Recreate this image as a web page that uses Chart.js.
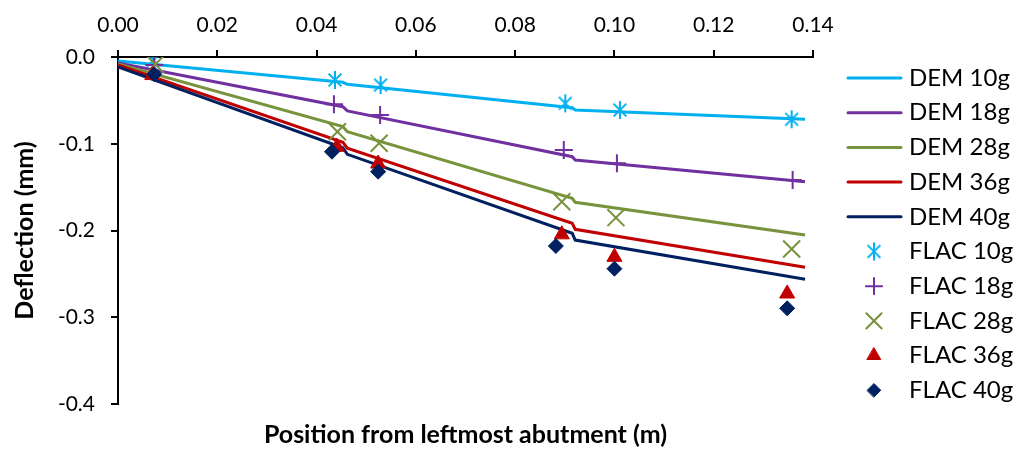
<!DOCTYPE html>
<html>
<head>
<meta charset="utf-8">
<script src="https://cdn.jsdelivr.net/npm/chart.js@4.4.1/dist/chart.umd.min.js"></script>
<style>
  html, body { margin: 0; padding: 0; background: #fff; }
  #wrap { width: 1017px; height: 453px; }
</style>
</head>
<body>
<div id="wrap"><canvas id="deflectionChart" width="1017" height="453"></canvas></div>
<script>
var loadCases = ["10g", "18g", "28g", "36g", "40g"];
var caseColors = ["#00b0f0", "#7030a0", "#77933c", "#c00000", "#002060"];

var xTicks = [0, 0.02, 0.04, 0.06, 0.08, 0.10, 0.12, 0.14];
var yTicks = [0, -0.1, -0.2, -0.3, -0.4];

// DEM deflection profile, sampled along the deck (m)
var demX = [0, 0.0453, 0.0462, 0.0915, 0.0921, 0.1384];
var dem10 = [-0.0046, -0.0292, -0.0315, -0.0584, -0.0611, -0.0718];
var dem18 = [-0.0069, -0.0573, -0.0622, -0.1149, -0.1187, -0.1437];
var dem28 = [-0.0081, -0.0803, -0.0861, -0.1629, -0.1675, -0.2052];
var dem36 = [-0.0092, -0.0983, -0.1052, -0.1917, -0.1986, -0.2424];
var dem40 = [-0.0115, -0.1046, -0.1122, -0.2032, -0.2110, -0.2563];

// FLAC results at the gauge positions
var flac10X = [0.0071, 0.0437, 0.0529, 0.0901, 0.1011, 0.1357];
var flac10Y = [-0.0040, -0.0265, -0.0323, -0.0534, -0.0611, -0.0718];
var flac18X = [0.0073, 0.0435, 0.0528, 0.0898, 0.1005, 0.1359];
var flac18Y = [-0.0092, -0.0545, -0.0669, -0.1072, -0.1225, -0.1418];
var flac28X = [0.0075, 0.0442, 0.0526, 0.0894, 0.1003, 0.1357];
var flac28Y = [-0.0085, -0.0861, -0.0995, -0.1668, -0.1852, -0.2213];
var flac36X = [0.0069, 0.0441, 0.0524, 0.0894, 0.1000, 0.1348];
var flac36Y = [-0.0210, -0.1037, -0.1230, -0.2046, -0.2305, -0.2728];
var flac40X = [0.0073, 0.0431, 0.0524, 0.0882, 0.1000, 0.1348];
var flac40Y = [-0.0199, -0.1092, -0.1322, -0.2179, -0.2440, -0.2897];

function asterisk(color) {
  var c = document.createElement("canvas");
  c.width = 20;
  c.height = 20;
  var g = c.getContext("2d");
  g.strokeStyle = color;
  g.lineWidth = 2;
  g.beginPath();
  g.moveTo(10, 1); g.lineTo(10, 19);
  g.moveTo(3.6, 3.6); g.lineTo(16.4, 16.4);
  g.moveTo(16.4, 3.6); g.lineTo(3.6, 16.4);
  g.stroke();
  return c;
}

var markerStyles = [
  { style: asterisk(caseColors[0]), radius: 9, border: 0 },
  { style: "cross", radius: 9, border: 2 },
  { style: "crossRot", radius: 12, border: 2 },
  { style: "triangle", radius: 8.7, border: 1 },
  { style: "rectRot", radius: 7.5, border: 1 }
];

function zip(xs, ys) {
  return xs.map(function (x, k) { return { x: x, y: ys[k] }; });
}

function demDataset(i, values) {
  return {
    type: "line",
    label: "DEM " + loadCases[i],
    data: zip(demX, values),
    borderColor: caseColors[i],
    backgroundColor: caseColors[i],
    borderWidth: 3,
    pointRadius: 0,
    tension: 0,
    order: 20 - i
  };
}

function flacDataset(i, xs, ys) {
  var m = markerStyles[i];
  return {
    type: "scatter",
    label: "FLAC " + loadCases[i],
    data: zip(xs, ys),
    showLine: false,
    pointStyle: m.style,
    pointRadius: m.radius,
    pointBorderWidth: m.border,
    pointBorderColor: caseColors[i],
    pointBackgroundColor: caseColors[i],
    order: 10 - i
  };
}

var datasets = [
  demDataset(0, dem10), demDataset(1, dem18), demDataset(2, dem28), demDataset(3, dem36), demDataset(4, dem40),
  flacDataset(0, flac10X, flac10Y), flacDataset(1, flac18X, flac18Y), flacDataset(2, flac28X, flac28Y),
  flacDataset(3, flac36X, flac36Y), flacDataset(4, flac40X, flac40Y)
];

// legend down the right-hand side: lines for DEM, markers for FLAC
var sideLegend = {
  id: "sideLegend",
  afterDraw: function (chart) {
    var ctx = chart.ctx;
    ctx.save();
    ctx.font = "24px Lato";
    ctx.textBaseline = "middle";
    chart.data.datasets.forEach(function (ds, i) {
      var y = 78 + i * 34.7;
      var color = caseColors[i % 5];
      if (ds.showLine === false) {
        var m = markerStyles[i % 5];
        ctx.fillStyle = color;
        ctx.strokeStyle = color;
        ctx.lineWidth = m.border;
        Chart.helpers.drawPoint(ctx, { pointStyle: m.style, radius: m.radius * 0.9, rotation: 0, borderWidth: m.border }, 874, y);
      } else {
        ctx.strokeStyle = color;
        ctx.lineWidth = 3;
        ctx.lineCap = "round";
        ctx.beginPath();
        ctx.moveTo(848, y);
        ctx.lineTo(901, y);
        ctx.stroke();
      }
      ctx.fillStyle = "#000";
      ctx.fillText(ds.label, 909, y);
    });
    ctx.restore();
  }
};

var tickFont = { family: "Lato", size: 21 };
var titleFont = { family: "Lato", size: 25, weight: "bold" };

new Chart(document.getElementById("deflectionChart"), {
  data: { datasets: datasets },
  plugins: [sideLegend],
  options: {
    responsive: false,
    animation: false,
    layout: { padding: { top: 0, left: 0, right: 204, bottom: 0 } },
    plugins: { legend: { display: false }, tooltip: { enabled: false } },
    elements: { point: { hoverRadius: 0 } },
    scales: {
      x: {
        type: "linear",
        position: "top",
        min: 0,
        max: 0.14,
        afterBuildTicks: function (scale) { scale.ticks = xTicks.map(function (v) { return { value: v }; }); },
        afterFit: function (scale) { scale.height = 57; },
        grid: { drawOnChartArea: false, tickLength: 7, color: "#000", lineWidth: 2 },
        border: { color: "#000", width: 2 },
        ticks: {
          color: "#000",
          font: tickFont,
          padding: 12,
          maxRotation: 0,
          callback: function (v) { return Number(v).toFixed(2); }
        }
      },
      xTitle: {
        type: "linear",
        axis: "x",
        position: "bottom",
        min: 0,
        max: 0.14,
        afterFit: function (scale) { scale.height = 49; },
        grid: { display: false },
        border: { display: false },
        ticks: { display: false },
        title: {
          display: true,
          text: "Position from leftmost abutment (m)",
          color: "#000",
          font: titleFont,
          padding: { top: 0, bottom: 3 }
        }
      },
      y: {
        type: "linear",
        min: -0.4,
        max: 0,
        afterBuildTicks: function (scale) { scale.ticks = yTicks.map(function (v) { return { value: v }; }); },
        afterFit: function (scale) { scale.width = 118; },
        grid: { drawOnChartArea: false, tickLength: 7, color: "#000", lineWidth: 2 },
        border: { color: "#000", width: 2 },
        ticks: {
          color: "#000",
          font: tickFont,
          padding: 16,
          callback: function (v) { return Number(v).toFixed(1); }
        },
        title: {
          display: true,
          text: "Deflection (mm)",
          color: "#000",
          font: titleFont,
          padding: { top: 10, bottom: 0 }
        }
      }
    }
  }
});
</script>
</body>
</html>
